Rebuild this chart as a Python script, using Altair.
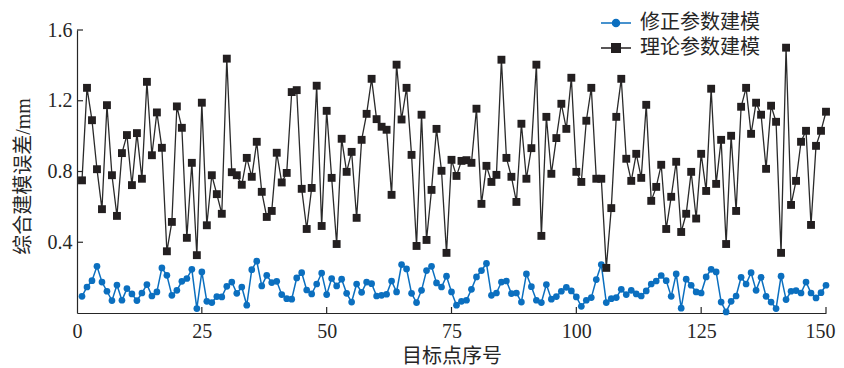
import altair as alt
import pandas as pd

# ---------------- data ----------------
idx = list(range(1, 151))
series_names = ["修正参数建模", "理论参数建模"]

corrected = [
    0.094, 0.147, 0.183, 0.264, 0.175, 0.123, 0.070, 0.158, 0.072, 0.138,
    0.108, 0.070, 0.113, 0.161, 0.096, 0.119, 0.255, 0.213, 0.100, 0.128,
    0.179, 0.195, 0.247, 0.025, 0.232, 0.066, 0.059, 0.093, 0.091, 0.151,
    0.175, 0.111, 0.147, 0.044, 0.245, 0.293, 0.153, 0.213, 0.172, 0.179,
    0.104, 0.081, 0.078, 0.198, 0.228, 0.130, 0.108, 0.164, 0.226, 0.104,
    0.195, 0.153, 0.191, 0.111, 0.062, 0.164, 0.117, 0.175, 0.166, 0.096,
    0.100, 0.106, 0.181, 0.119, 0.274, 0.249, 0.111, 0.059, 0.128, 0.240,
    0.264, 0.170, 0.147, 0.208, 0.119, 0.044, 0.066, 0.072, 0.134, 0.204,
    0.240, 0.280, 0.100, 0.113, 0.175, 0.181, 0.110, 0.113, 0.062, 0.221,
    0.149, 0.072, 0.059, 0.161, 0.078, 0.093, 0.123, 0.145, 0.125, 0.091,
    0.038, 0.072, 0.087, 0.189, 0.274, 0.059, 0.081, 0.087, 0.134, 0.104,
    0.128, 0.108, 0.096, 0.125, 0.164, 0.181, 0.212, 0.183, 0.094, 0.221,
    0.027, 0.191, 0.157, 0.119, 0.113, 0.204, 0.247, 0.232, 0.062, 0.006,
    0.066, 0.096, 0.202, 0.164, 0.228, 0.128, 0.202, 0.094, 0.062, 0.025,
    0.208, 0.076, 0.123, 0.127, 0.113, 0.175, 0.113, 0.085, 0.115, 0.157,
]

theory = [
    0.750, 1.273, 1.090, 0.813, 0.587, 1.175, 0.779, 0.549, 0.904, 1.006,
    0.723, 1.017, 0.759, 1.307, 0.892, 1.134, 0.934, 0.349, 0.515, 1.168,
    1.047, 0.425, 0.849, 0.327, 1.189, 0.496, 0.779, 0.672, 0.561, 1.438,
    0.796, 0.779, 0.725, 0.877, 0.770, 0.968, 0.685, 0.543, 0.577, 0.906,
    0.738, 0.792, 1.249, 1.260, 0.702, 0.475, 0.707, 1.285, 0.492, 1.143,
    0.764, 0.390, 0.985, 0.798, 0.911, 0.538, 0.979, 1.126, 1.324, 1.096,
    1.053, 1.036, 0.668, 1.404, 1.094, 1.273, 0.894, 0.379, 1.121, 0.413,
    0.696, 1.041, 0.804, 0.340, 0.866, 0.775, 0.860, 0.864, 0.849, 1.155,
    0.617, 0.832, 0.741, 0.781, 1.432, 0.877, 0.770, 0.628, 1.070, 0.759,
    0.932, 1.404, 0.436, 1.109, 0.787, 0.989, 1.183, 1.041, 1.330, 0.798,
    0.741, 1.087, 1.273, 0.759, 0.759, 0.255, 0.593, 1.109, 1.324, 0.872,
    0.747, 0.900, 0.764, 1.177, 0.634, 0.713, 0.838, 0.475, 0.657, 0.855,
    0.458, 0.561, 0.798, 0.534, 0.900, 0.690, 1.268, 0.730, 0.979, 0.390,
    1.002, 0.577, 1.166, 1.273, 1.013, 1.189, 1.121, 0.815, 1.172, 1.081,
    0.340, 1.500, 0.611, 0.747, 0.968, 1.030, 0.498, 0.945, 1.030, 1.138,
]

x_ticks = [0, 25, 50, 75, 100, 125, 150]
y_ticks = [0.4, 0.8, 1.2, 1.6]

# ---------------- styles ----------------
BLUE = "#0b6fbf"
BLACK = "#231f20"
AXC = "#262626"
SERIF = "Liberation Serif"
CJK = "Noto Sans CJK SC"

W, H = 749, 283

df_b = pd.DataFrame({"idx": idx, "val": corrected, "series": series_names[0]})
df_k = pd.DataFrame({"idx": idx, "val": theory, "series": series_names[1]})
df_all = pd.concat([df_b, df_k], ignore_index=True)

xscale = alt.Scale(domain=[0, 150], nice=False, zero=False)
yscale = alt.Scale(domain=[0, 1.6], nice=False)

xaxis = alt.Axis(
    values=x_ticks, title="目标点序号", ticks=False, grid=False,
    labelPadding=8, labelFontSize=20, labelFont=SERIF, labelColor=AXC,
    labelFlush=False,
    labelOffset={"condition": {"test": "datum.value === 150", "value": -6}, "value": 0},
    domainColor=AXC, domainWidth=1.2,
    titleFontSize=20, titleFont=CJK, titleFontWeight="normal", titleColor=AXC,
    titleX=W / 2, titleY=43, titleBaseline="middle", titleAlign="center",
)
yaxis = alt.Axis(
    values=y_ticks, format=".1f", title="综合建模误差/mm", ticks=False, grid=False,
    labelPadding=5, labelFontSize=20, labelFont=SERIF, labelColor=AXC,
    labelFlush=False, domainColor=AXC, domainWidth=1.2,
    titleFontSize=20, titleFont=SERIF + ", " + CJK, titleFontWeight="normal",
    titleColor=AXC, titleX=-54, titleY=146, titleAngle=270,
    titleBaseline="middle", titleAlign="center",
)

X = alt.X("idx:Q", scale=xscale, axis=xaxis)
Y = alt.Y("val:Q", scale=yscale, axis=yaxis)

line_b = alt.Chart(df_b).mark_line(color=BLUE, strokeWidth=1.5).encode(x=X, y=Y)
pts_b = alt.Chart(df_b).mark_point(shape="circle", filled=True, color=BLUE,
                                   size=45, opacity=1).encode(x=X, y=Y)
line_k = alt.Chart(df_k).mark_line(color="#2a2a2a", strokeWidth=1.3).encode(x=X, y=Y)
pts_k = alt.Chart(df_k).mark_square(color=BLACK, size=62, opacity=1).encode(x=X, y=Y)

# legend symbols: line segment + marker as custom paths
path_c = "M-3,0L3,0M-0.7,0A0.7,0.7,0,1,1,0.7,0A0.7,0.7,0,1,1,-0.7,0Z"
path_s = "M-3,0L3,0M-0.85,-0.85L0.85,-0.85L0.85,0.85L-0.85,0.85Z"

leg = alt.Legend(
    title=None, orient="none", legendX=529, legendY=-17, padding=0,
    symbolSize=100, symbolStrokeWidth=1.5, symbolOpacity=1,
    labelFont=CJK, labelFontSize=20, labelColor=AXC, labelOffset=14,
    rowPadding=5, labelLimit=300,
)
cscale = alt.Scale(domain=series_names, range=[BLUE, BLACK])
sscale = alt.Scale(domain=series_names, range=[path_c, path_s])

legend_layer = alt.Chart(df_all).mark_point(filled=True, opacity=0, strokeWidth=1.5).encode(
    x=X, y=Y,
    color=alt.Color("series:N", scale=cscale, legend=leg),
    stroke=alt.Stroke("series:N", scale=cscale, legend=leg),
    shape=alt.Shape("series:N", scale=sscale, legend=leg),
)

# inward ticks
ytick = alt.Chart(pd.DataFrame({"idx": [0] * len(y_ticks), "val": y_ticks})).mark_rule(
    color=AXC, strokeWidth=1.2).encode(y=Y, x=alt.value(0), x2=alt.value(6))
xtick = alt.Chart(pd.DataFrame({"idx": x_ticks[1:], "val": [0] * 6})).mark_rule(
    color=AXC, strokeWidth=1.2).encode(x=X, y=alt.value(H), y2=alt.value(H - 6))

chart = alt.layer(
    line_b, pts_b, line_k, pts_k, ytick, xtick, legend_layer
).properties(
    width=W, height=H,
    padding={"left": 69, "top": 22, "right": 10, "bottom": 54},
    autosize=alt.AutoSizeParams(type="none"),
).configure_view(stroke=None)

chart.save("out.html", embed_options={"renderer": "svg", "actions": False})
